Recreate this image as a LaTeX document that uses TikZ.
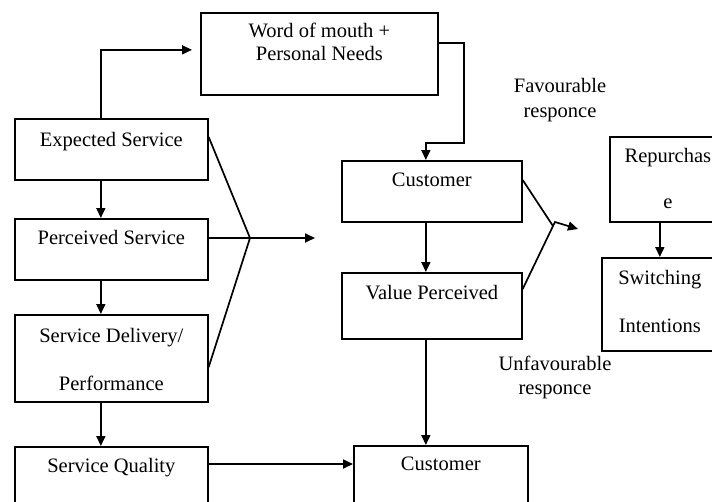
\documentclass[tikz,border=0pt]{standalone}
\usepackage{fontspec}
\setmainfont{Liberation Serif}
\usetikzlibrary{arrows.meta}

\begin{document}
\begin{tikzpicture}[x=1pt, y=-1pt,
    box/.style={draw, line width=1.7pt, anchor=north west, inner sep=0pt},
    txt/.style={anchor=north, inner sep=0pt, align=center, font=\fontsize{20.5}{24}\selectfont},
    arr/.style={line width=1.7pt, -{Triangle[length=10pt, width=9pt]}},
    funnel/.style={line width=1.7pt}]

    % Page size and clipping
    \useasboundingbox (0,0) rectangle (712,501);
    \clip (0,0) rectangle (712,501);

    % Draw the boxes
    \node[box, minimum width=237pt, minimum height=82pt] (word) at (200,12) {};
    \node[box, minimum width=193pt, minimum height=61pt] (expected) at (14,118) {};
    \node[box, minimum width=193pt, minimum height=61pt] (perceived) at (14,218) {};
    \node[box, minimum width=193pt, minimum height=87pt] (delivery) at (14,314) {};
    \node[box, minimum width=193pt, minimum height=70pt] (quality) at (14,446) {};
    \node[box, minimum width=180pt, minimum height=61pt] (cust) at (341,160) {};
    \node[box, minimum width=180pt, minimum height=66pt] (value) at (341,272) {};
    \node[box, minimum width=174pt, minimum height=70pt] (custlow) at (353,445) {};
    \node[box, minimum width=116pt, minimum height=85pt] (repurchase) at (609,136) {};
    \node[box, minimum width=116pt, minimum height=93pt] (switching) at (601,257) {};

    % Box texts
    \node[txt] (wordtext) at ([yshift=-11pt]word.north) {Word of mouth +\\[-1pt]Personal Needs};
    \node[txt] (expectedtext) at ([yshift=-14pt]expected.north) {Expected Service};
    \node[txt] (perceivedtext) at ([yshift=-12pt]perceived.north) {Perceived Service};
    \node[txt] (deliverytext) at ([yshift=-14pt]delivery.north) {Service Delivery/\\[24pt]Performance};
    \node[txt] (qualitytext) at ([yshift=-12pt]quality.north) {Service Quality};
    \node[txt] (custtext) at ([yshift=-13pt]cust.north) {Customer};
    \node[txt] (valuetext) at ([yshift=-13pt]value.north) {Value Perceived};
    \node[txt] (custlowtext) at ([yshift=-12pt]custlow.north) {Customer};
    \node[txt] (repurchasetext) at ([yshift=-12pt]repurchase.north) {Repurchas\\[22pt]e};
    \node[txt] (switchingtext) at ([yshift=-13pt]switching.north) {Switching\\[24pt]Intentions};

    % Response labels
    \node[txt] (favour) at (560,78) {Favourable\\[1pt]responce};
    \node[txt] (unfavour) at (555,356) {Unfavourable\\responce};

    % Left column arrows
    \draw[arr] ([xshift=-10.5pt]expected.north) |- ([xshift=-8pt, yshift=4pt]word.west);
    \draw[arr] ([xshift=-10.5pt]expected.south) -- ([xshift=-10.5pt]perceived.north);
    \draw[arr] ([xshift=-10.5pt]perceived.south) -- ([xshift=-10.5pt]delivery.north);
    \draw[arr] ([xshift=-10.5pt]delivery.south) -- ([xshift=-10.5pt]quality.north);

    % Word of mouth into customer
    \coordinate (wordbend) at (464,143);
    \draw[arr] ([yshift=11pt]word.east) -| (wordbend) -| ([xshift=-6pt]cust.north);

    % Left funnel
    \coordinate (leftmeet) at (250,238);
    \coordinate (lefttip) at (315,238);
    \draw[funnel] ([yshift=-19pt]expected.north east) -- (leftmeet) -- ([yshift=-53pt]delivery.north east);
    \draw[arr] ([yshift=-20pt]perceived.north east) -- (lefttip);

    % Service quality to customer
    \draw[arr] ([yshift=-18pt]quality.north east) -- ([yshift=-19pt]custlow.north west);

    % Middle column arrows
    \draw[arr] ([xshift=-6pt]cust.south) -- ([xshift=-6pt]value.north);
    \draw[arr] ([xshift=-6pt]value.south) -- ([xshift=-6pt]value.south |- custlow.north);

    % Right funnel
    \coordinate (rightmeet) at (553,226);
    \coordinate (rightbend) at (555,222);
    \coordinate (righttip) at (578,229);
    \draw[funnel] ([yshift=-20pt]cust.north east) -- (rightmeet) -- ([yshift=-17pt]value.north east);
    \draw[arr] (rightmeet) -- (rightbend) -- (righttip);

    % Repurchase to switching
    \draw[arr] ([xshift=-8pt]repurchase.south) -- ([xshift=-8pt]repurchase.south |- switching.north);

\end{tikzpicture}
\end{document}
